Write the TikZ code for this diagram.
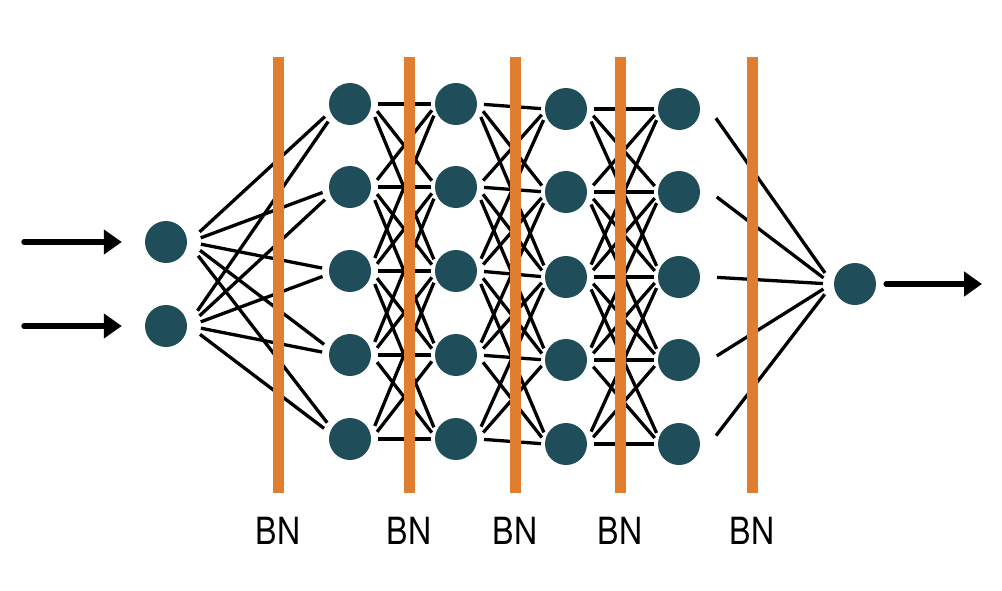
\documentclass[tikz,border=0pt]{standalone}
\usepackage{fontspec}
\setmainfont{TeX Gyre Heros}
\usetikzlibrary{arrows.meta,calc}
\definecolor{neuroncol}{HTML}{1F4D59}
\definecolor{bnorange}{HTML}{E07D2E}
% #1,#2 nodes; #3 start radius, #4 start vertical squeeze; #5 end radius, #6 end squeeze
\newcommand\linkAB[6]{%
  \draw[link] let \p1=(#1.center), \p2=(#2.center),
    \n1={atan2((\y2-\y1)/#4,\x2-\x1)}, \n2={atan2((\y2-\y1)/#6,\x2-\x1)} in
    ({\x1+#3*cos(\n1)},{\y1+#3*sin(\n1)}) -- ({\x2-#5*cos(\n2)},{\y2-#5*sin(\n2)});}
\begin{document}
\begin{tikzpicture}[x=1pt,y=-1pt,
 neuron/.style={circle,fill=neuroncol,minimum size=42pt,inner sep=0pt},
 link/.style={line width=3.3pt,black},
 bnbar/.style={fill=bnorange,minimum width=11pt,minimum height=436pt,inner sep=0pt},
 bnlabel/.style={font=\fontsize{32}{32}\selectfont,inner sep=0pt},
 ioarrow/.style={line width=5.5pt,line cap=round,-{Triangle[length=18pt,width=24pt]}}]
\useasboundingbox (0,0) rectangle (1002,590);
% neurons
\node[neuron] (a1) at (166,242) {};
\node[neuron] (a2) at (166,326) {};
\foreach \i/\y in {1/104,2/187,3/271,4/355,5/439} {
  \node[neuron] (b\i) at (350,\y) {};
  \node[neuron] (c\i) at (456,\y) {};
}
\foreach \i/\y in {1/109,2/192,3/277,4/360,5/444} {
  \node[neuron] (d\i) at (566,\y) {};
  \node[neuron] (e\i) at (679,\y) {};
}
\node[neuron] (o) at (855,284) {};
% connections
\foreach \i in {1,2} \foreach \j in {1,...,5}
  {\linkAB{a\i}{b\j}{35pt}{2.5}{28pt}{1.5}}
\foreach \i in {1,...,5} \foreach \j in {1,...,5} {
  \pgfmathtruncatemacro\dist{abs(\i-\j)}
  \ifnum\dist<3
    \linkAB{b\i}{c\j}{28pt}{3}{25pt}{3}
    \linkAB{c\i}{d\j}{28pt}{3}{25pt}{3}
    \linkAB{d\i}{e\j}{28pt}{3}{25pt}{3}
  \fi
}
\foreach \i in {1,...,5}
  {\linkAB{e\i}{o}{38pt}{4}{32pt}{2.7}}
% batch norm bars
\foreach \k/\x in {1/278,2/409,3/515,4/620,5/752} {
  \node[bnbar] (bn\k) at (\x,275) {};
  \node[bnlabel] (lbl\k) at (\x,531) {\scalebox{1}[1.17]{BN}};
}
% input / output arrows
\coordinate (in1) at (24,242);
\coordinate (in2) at (24,326);
\coordinate (out) at (982,284);
\draw[ioarrow,shorten >=23pt] (in1) -- (a1);
\draw[ioarrow,shorten >=23pt] (in2) -- (a2);
\draw[ioarrow,shorten <=10pt] (o) -- (out);
\end{tikzpicture}
\end{document}
